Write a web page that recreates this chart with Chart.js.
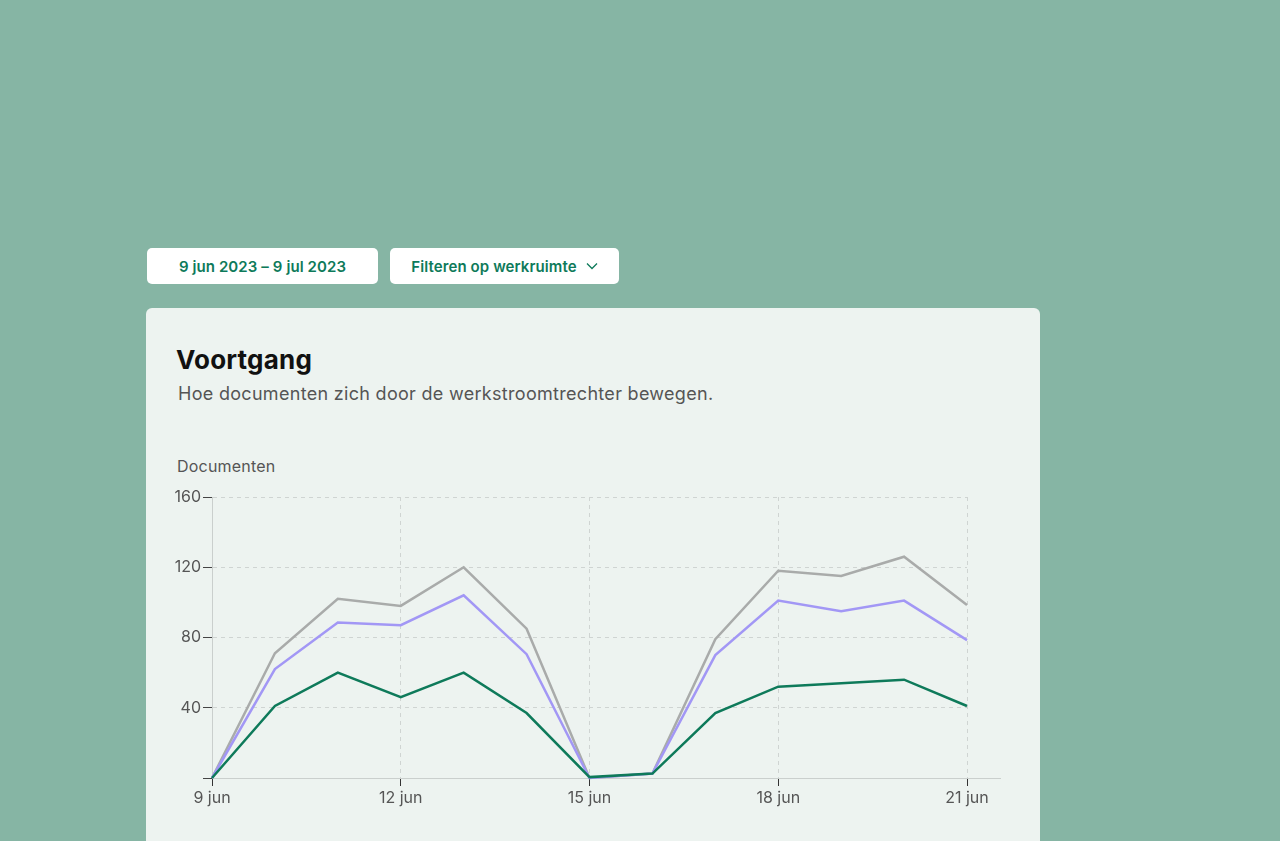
<!DOCTYPE html>
<html>
<head>
<meta charset="utf-8">
<script src="https://cdn.jsdelivr.net/npm/chart.js@4/dist/chart.umd.min.js"></script>
<style>
  html, body { margin: 0; padding: 0; }
  body { width: 1280px; height: 841px; background: #86B5A4; overflow: hidden; position: relative; font-family: Inter, "Open Sans", sans-serif; }
  .btn { position: absolute; top: 248px; height: 36px; background: #fff; border-radius: 5px; color: #0E7A5A; font-weight: 600; font-size: 15px; display: flex; align-items: center; justify-content: center; box-sizing: border-box; letter-spacing: 0.1px; }
  #b1 { left: 147px; width: 231px; }
  #b2 { left: 390px; width: 229px; }
  #b2 svg { margin-left: 9px; }
  .card { position: absolute; left: 146px; top: 308px; width: 894px; height: 600px; background: #EDF3F0; border-radius: 6px; }
  h1 { position: absolute; left: 30px; top: 36px; margin: 0; font-size: 26px; font-weight: 700; color: #111; letter-spacing: 0.2px; }
  .sub { position: absolute; left: 32px; top: 75px; font-size: 18px; color: #555; letter-spacing: 0.3px; }
  .ylab { position: absolute; left: 31px; top: 148px; font-size: 16px; color: #555; letter-spacing: 0.2px; }
  #wrap { position: absolute; left: 14px; top: 172px; width: 860px; height: 340px; }
</style>
</head>
<body>
<div class="btn" id="b1">9 jun 2023 – 9 jul 2023</div>
<div class="btn" id="b2">Filteren op werkruimte<svg width="12" height="8" viewBox="0 0 12 8"><path d="M1 1.5 L6 6.5 L11 1.5" fill="none" stroke="#0E7A5A" stroke-width="1.3"/></svg></div>
<div class="card">
  <h1>Voortgang</h1>
  <div class="sub">Hoe documenten zich door de werkstroomtrechter bewegen.</div>
  <div class="ylab">Documenten</div>
  <div id="wrap"><canvas id="c"></canvas></div>
</div>
<script>
const days = [9, 10, 11, 12, 13, 14, 15, 16, 17, 18, 19, 20, 21];
const monthLabel = 'jun';
const totalDocs   = [0, 71, 102, 98, 120, 85, 0, 2.5, 79, 118, 115, 126, 98.5];
const reviewDocs  = [0, 62, 88.5, 87, 104, 70.5, 0, 2.5, 70, 101, 95, 101, 78.5];
const doneDocs    = [0, 41, 60, 46, 60, 37, 0.5, 2.5, 37, 52, 54, 56, 41];
const yTicks = [0, 40, 80, 120, 160];

const toPts = arr => arr.map((v, i) => ({ x: days[i], y: v }));

const extendAxis = {
  id: 'extendAxis',
  beforeDatasetsDraw(chart) {
    const { ctx, chartArea } = chart;
    ctx.save();
    ctx.strokeStyle = '#CACFCD';
    ctx.lineWidth = 1;
    ctx.beginPath();
    ctx.moveTo(chartArea.right, chartArea.bottom + 0.5);
    ctx.lineTo(chartArea.right + 34, chartArea.bottom + 0.5);
    ctx.stroke();
    ctx.restore();
  }
};

new Chart(document.getElementById('c'), {
  type: 'line',
  data: {
    datasets: [
      { label: 'Totaal', data: toPts(totalDocs), borderColor: '#A9ABAA', borderWidth: 2.5, pointRadius: 0, tension: 0, clip: 6, order: 3 },
      { label: 'Beoordeling', data: toPts(reviewDocs), borderColor: '#A297F5', borderWidth: 2.5, pointRadius: 0, tension: 0, clip: 6, order: 2 },
      { label: 'Voltooid', data: toPts(doneDocs), borderColor: '#0E7A5A', borderWidth: 2.5, pointRadius: 0, tension: 0, clip: 6, order: 1 }
    ]
  },
  options: {
    responsive: true,
    maintainAspectRatio: false,
    animation: false,
    layout: { padding: { top: 17, right: 53, bottom: 0, left: 0 } },
    plugins: { legend: { display: false }, tooltip: { enabled: false } },
    scales: {
      x: {
        type: 'linear',
        min: days[0],
        max: days[days.length - 1],
        afterFit(s) { s.height = 42; },
        afterBuildTicks(s) { s.ticks = days.filter(d => (d - days[0]) % 3 === 0).map(v => ({ value: v })); },
        ticks: {
          callback: v => v + ' ' + monthLabel,
          color: '#555',
          font: { family: 'Inter', size: 16 },
          padding: 3,
          maxRotation: 0,
          autoSkip: false
        },
        grid: { color: '#CFD4D2', tickColor: '#333', tickLength: 8, tickBorderDash: [], lineWidth: 1 },
        border: { display: true, color: '#CACFCD', width: 1, dash: [4, 4] }
      },
      y: {
        min: 0,
        max: 160,
        afterFit(s) { s.width = 52; },
        afterBuildTicks(s) { s.ticks = yTicks.map(v => ({ value: v })); },
        ticks: {
          callback: v => v === 0 ? '' : String(v),
          color: '#555',
          font: { family: 'Inter', size: 16 },
          padding: 2
        },
        grid: { color: '#CFD4D2', tickColor: '#444', tickLength: 9, tickBorderDash: [], lineWidth: 1 },
        border: { display: true, color: '#CACFCD', width: 1, dash: [4, 4] }
      }
    }
  },
  plugins: [extendAxis]
});
</script>
</body>
</html>
